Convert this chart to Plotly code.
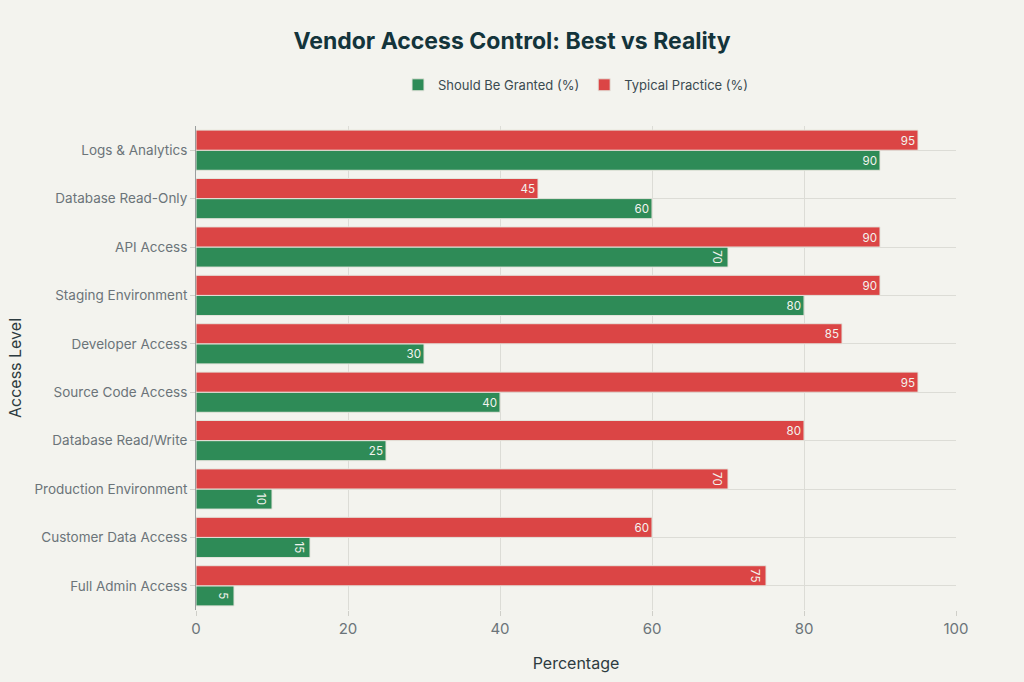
import plotly.graph_objects as go

# --- Data ---
access_levels = [
    "Full Admin Access", "Customer Data Access", "Production Environment",
    "Database Read/Write", "Source Code Access", "Developer Access",
    "Staging Environment", "API Access", "Database Read-Only", "Logs & Analytics",
]
should_be_granted = [5, 15, 10, 25, 40, 30, 80, 70, 60, 90]
typical_practice = [75, 60, 70, 80, 95, 85, 90, 90, 45, 95]
x_ticks = [0, 20, 40, 60, 80, 100]

# --- Style ---
BG = "#F3F3EE"
GREEN = "#2E8B57"
RED = "#DB4545"
TITLE_COLOR = "#13343B"
TICK_COLOR = "#6B7479"
FONT = "Inter, 'Liberation Sans', Arial, sans-serif"

fig = go.Figure()

fig.add_trace(go.Bar(
    name="Should Be Granted (%)",
    y=access_levels,
    x=should_be_granted,
    orientation="h",
    marker=dict(color=GREEN, line=dict(color="#E4E4DC", width=1)),
    text=should_be_granted,
    textposition="inside",
    insidetextanchor="end",
    textfont=dict(color="#F3F3EE", size=14),
))

fig.add_trace(go.Bar(
    name="Typical Practice (%)",
    y=access_levels,
    x=typical_practice,
    orientation="h",
    marker=dict(color=RED, line=dict(color="#E4E4DC", width=1)),
    text=typical_practice,
    textposition="inside",
    insidetextanchor="end",
    textfont=dict(color="#F3F3EE", size=14),
))

fig.update_layout(
    width=1024,
    height=682,
    paper_bgcolor=BG,
    plot_bgcolor=BG,
    font=dict(family=FONT, size=14, color=TICK_COLOR),
    barmode="group",
    bargap=0.17,
    bargroupgap=0,
    margin=dict(l=196, r=68, t=126, b=72, autoexpand=False),
    title=dict(
        text="<b>Vendor Access Control: Best vs Reality</b>",
        x=0.5, xanchor="center", y=0.94, yanchor="middle",
        font=dict(size=23, color=TITLE_COLOR),
    ),
    legend=dict(
        orientation="h",
        x=0.5, xanchor="center",
        y=1.085, yanchor="middle",
        bgcolor="rgba(0,0,0,0)",
        font=dict(size=13, color="#3A4A50"),
        traceorder="normal",
    ),
    uniformtext=dict(minsize=10, mode="show"),
)

fig.update_xaxes(
    range=[0, 100],
    tickvals=x_ticks,
    showgrid=True,
    gridcolor="#DCDCD6",
    zeroline=False,
    ticks="outside",
    tickcolor="#CFCFC9",
    ticklen=5,
    tickfont=dict(size=15, color=TICK_COLOR),
    title=dict(text="Percentage", font=dict(size=16, color="#2D3B40"), standoff=20),
)

fig.update_yaxes(
    automargin=False,
    showgrid=True,
    gridcolor="#DCDCD6",
    showline=True,
    linecolor="#9A9E9E",
    linewidth=1,
    ticks="outside",
    tickcolor="#CFCFC9",
    ticklen=5,
    tickfont=dict(size=13.5, color=TICK_COLOR),
    title=dict(text="Access Level", font=dict(size=16, color="#2D3B40"), standoff=8),
)

# remove the default page margin so the figure fills the window
fig.write_html(
    "out.html",
    config={"displayModeBar": False},
    post_script="document.body.style.margin='0';",
)
